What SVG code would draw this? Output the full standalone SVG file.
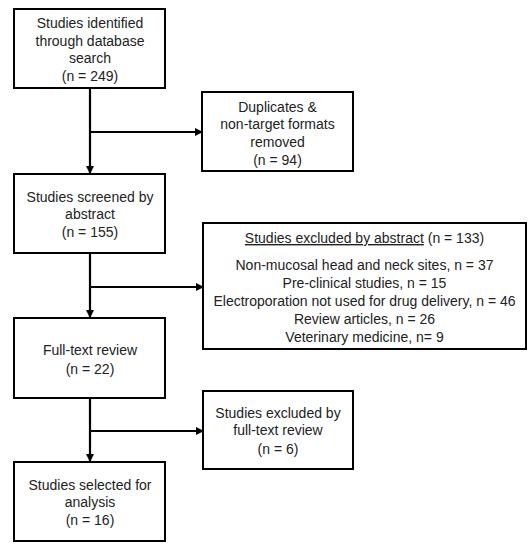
<svg xmlns="http://www.w3.org/2000/svg" width="532" height="550" viewBox="0 0 532 550">
<style>
.box{fill:#fff;stroke:#000;stroke-width:2}
.t{font-family:"Liberation Sans",Arial,sans-serif;font-size:14px;fill:#222;text-anchor:middle}
.c{fill:none;stroke:#000;stroke-width:2.2}
</style>
<defs>
<marker id="ah" markerWidth="8" markerHeight="8" refX="7" refY="4" orient="auto" markerUnits="userSpaceOnUse">
<path d="M0,0 L8,4 L0,8 Z" fill="#000"/>
</marker>
</defs>
<rect width="532" height="550" fill="#fff"/>
<g id="connectors">
<path class="c" d="M90,88 V173" marker-end="url(#ah)"/>
<path class="c" d="M90,132 H202" marker-end="url(#ah)"/>
<path class="c" d="M90,253 V317" marker-end="url(#ah)"/>
<path class="c" d="M90,287 H203" marker-end="url(#ah)"/>
<path class="c" d="M90,398 V461" marker-end="url(#ah)"/>
<path class="c" d="M90,431 H203" marker-end="url(#ah)"/>
</g>
<g id="n1">
<rect class="box" x="14" y="9" width="151" height="79"/>
<text class="t" x="90" y="28">Studies identified</text>
<text class="t" x="90" y="45.5">through database</text>
<text class="t" x="90" y="63">search</text>
<text class="t" x="90" y="81">(n = 249)</text>
</g>
<g id="n2">
<rect class="box" x="202" y="92" width="151" height="79"/>
<text class="t" x="277.5" y="112">Duplicates &amp;</text>
<text class="t" x="277.5" y="129">non-target formats</text>
<text class="t" x="277.5" y="147">removed</text>
<text class="t" x="277.5" y="165">(n = 94)</text>
</g>
<g id="n3">
<rect class="box" x="14" y="174" width="151" height="79"/>
<text class="t" x="90" y="202">Studies screened by</text>
<text class="t" x="90" y="219">abstract</text>
<text class="t" x="90" y="237">(n = 155)</text>
</g>
<g id="n4">
<rect class="box" x="203" y="223" width="323" height="126"/>
<text class="t" x="364.5" y="243"><tspan text-decoration="underline">Studies excluded by abstract</tspan> (n = 133)</text>
<text class="t" x="364.5" y="270">Non-mucosal head and neck sites, n = 37</text>
<text class="t" x="364.5" y="288">Pre-clinical studies, n = 15</text>
<text class="t" x="364.5" y="306">Electroporation not used for drug delivery, n = 46</text>
<text class="t" x="364.5" y="324">Review articles, n = 26</text>
<text class="t" x="364.5" y="342">Veterinary medicine, n= 9</text>
</g>
<g id="n5">
<rect class="box" x="14" y="318" width="151" height="80"/>
<text class="t" x="90" y="355">Full-text review</text>
<text class="t" x="90" y="374">(n = 22)</text>
</g>
<g id="n6">
<rect class="box" x="203" y="391" width="150" height="78"/>
<text class="t" x="278" y="418">Studies excluded by</text>
<text class="t" x="278" y="435">full-text review</text>
<text class="t" x="278" y="454">(n = 6)</text>
</g>
<g id="n7">
<rect class="box" x="14" y="462" width="151" height="79"/>
<text class="t" x="90" y="490">Studies selected for</text>
<text class="t" x="90" y="507">analysis</text>
<text class="t" x="90" y="525">(n = 16)</text>
</g>
</svg>
